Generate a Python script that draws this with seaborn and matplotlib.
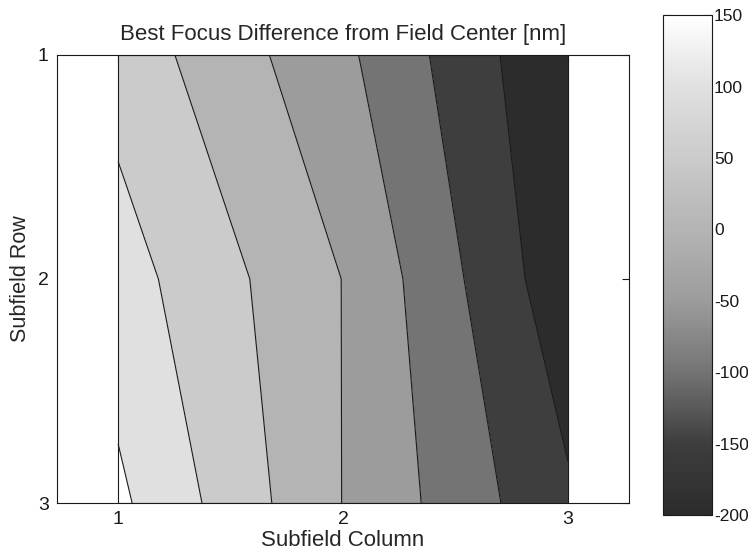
import numpy as np
import matplotlib
matplotlib.use("Agg")
import matplotlib.pyplot as plt
import seaborn as sns
from matplotlib.colors import Normalize
from matplotlib.cm import ScalarMappable
from matplotlib.patches import Rectangle

# ---- data ----
columns = [1, 2, 3]
rows = [1, 2, 3]
row1 = [80, -39, -198]
row2 = [122, -1, -185]
row3 = [160, -1, -142]
levels = [-200, -150, -100, -50, 0, 50, 100, 150]
cbar_ticks = [-200, -150, -100, -50, 0, 50, 100, 150]
title = "Best Focus Difference from Field Center [nm]"
xlabel = "Subfield Column"
ylabel = "Subfield Row"

sns.set_theme(style="white")
plt.rcParams["font.family"] = ["Liberation Sans", "DejaVu Sans"]
plt.rcParams["axes.unicode_minus"] = False

# scanned-gray colormap (stops evenly spaced from -200 to 150)
cmap = sns.blend_palette(["#2c2c2c", "#3e3e3e", "#747474", "#9c9c9c",
                          "#b4b4b4", "#cbcbcb", "#e0e0e0", "#ffffff"],
                         as_cmap=True)
vmin, vmax = min(cbar_ticks), max(cbar_ticks)
norm = Normalize(vmin=vmin, vmax=vmax)

Z = np.array([row1, row2, row3], dtype=float)
X, Y = np.meshgrid(columns, rows)

fig = plt.figure(figsize=(7.48, 5.56), dpi=100)
ax = fig.add_axes([0.0762, 0.0953, 0.7648, 0.806])
cax = fig.add_axes([0.8864, 0.0737, 0.0655, 0.899])

# MATLAB-style: each band coloured by its lower level
band_colors = [cmap(norm(levels[0]))] + [cmap(norm(L)) for L in levels]
ax.contourf(X, Y, Z, levels=levels, colors=band_colors, extend="both")
ax.contour(X, Y, Z, levels=levels, colors="k", linewidths=0.8,
           linestyles="solid")
ax.add_patch(Rectangle((min(columns), min(rows)), max(columns) - min(columns),
                       max(rows) - min(rows), fill=False, edgecolor="k",
                       linewidth=0.8, zorder=3))

pad_x = 0.272
ax.set_xlim(min(columns) - pad_x, max(columns) + pad_x)
ax.set_ylim(max(rows), min(rows))
ax.set_xticks(columns)
ax.set_yticks(rows)
ax.tick_params(direction="in", top=True, right=True, length=5, width=0.8,
               labelsize=14, pad=6, colors="k")
for s in ax.spines.values():
    s.set_color("k")
    s.set_linewidth(0.8)
ax.set_title(title, fontsize=16, pad=11)
ax.set_xlabel(xlabel, fontsize=16, labelpad=1)
ax.set_ylabel(ylabel, fontsize=15.5, labelpad=5)

sm = ScalarMappable(norm=norm, cmap=cmap)
cb = fig.colorbar(sm, cax=cax, ticks=cbar_ticks)
cb.outline.set_edgecolor("k")
cb.outline.set_linewidth(0.8)
cax.tick_params(direction="in", left=True, right=True, length=5, width=0.8,
                labelsize=12.5, pad=1.5, colors="k")

fig.savefig("out.png", dpi=100)
